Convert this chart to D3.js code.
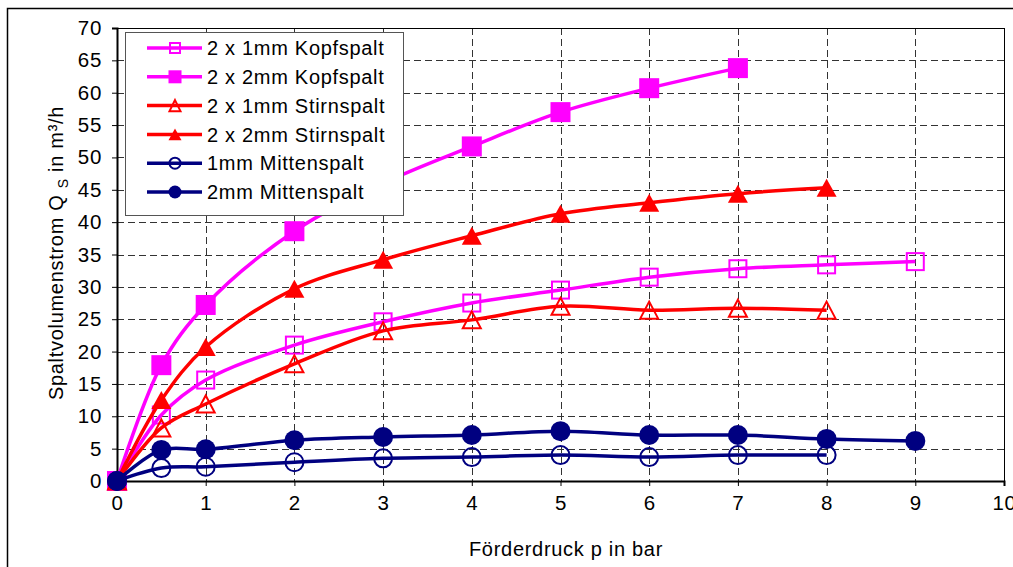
<!DOCTYPE html>
<html>
<head>
<meta charset="utf-8">
<script src="https://cdn.jsdelivr.net/npm/d3@7"></script>
<style>
  body { margin: 0; background: #fff; }
  text { font-family: Arial, "Liberation Sans", sans-serif; fill: #000; letter-spacing: 0.7px; }
</style>
</head>
<body>
<div id="chart"></div>
<script>
// Values
var pressure = [0, 0.5, 1, 2, 3, 4, 5, 6, 7, 8, 9]
var kopf1 = [0, 10.2, 15.6, 21.0, 24.6, 27.5, 29.5, 31.5, 32.8, 33.4, 33.9]
var kopf2 = [0, 17.9, 27.2, 38.6, 46.0, 51.7, 57.0, 60.7, 63.8]
var stirn1 = [0, 8.2, 11.9, 18.1, 23.2, 24.9, 27.0, 26.4, 26.7, 26.4]
var stirn2 = [0, 12.5, 20.7, 29.7, 34.2, 37.9, 41.3, 43.0, 44.4, 45.3]
var mitte1 = [0, 2.0, 2.2, 2.9, 3.5, 3.7, 4.0, 3.7, 4.0, 4.0]
var mitte2 = [0, 4.8, 4.9, 6.3, 6.8, 7.1, 7.7, 7.1, 7.1, 6.5, 6.2]

var seriesNames = ['2 x 1mm Kopfspalt', '2 x 2mm Kopfspalt', '2 x 1mm Stirnspalt',
                   '2 x 2mm Stirnspalt', '1mm Mittenspalt', '2mm Mittenspalt']
var xTicks = [0, 1, 2, 3, 4, 5, 6, 7, 8, 9, 10]
var yTicks = [0, 5, 10, 15, 20, 25, 30, 35, 40, 45, 50, 55, 60, 65, 70]

var series = [
    { name: seriesNames[0], values: kopf1, color: '#ff00ff', shape: 'square', filled: false },
    { name: seriesNames[1], values: kopf2, color: '#ff00ff', shape: 'square', filled: true },
    { name: seriesNames[2], values: stirn1, color: '#ff0000', shape: 'triangle', filled: false },
    { name: seriesNames[3], values: stirn2, color: '#ff0000', shape: 'triangle', filled: true },
    { name: seriesNames[4], values: mitte1, color: '#000080', shape: 'circle', filled: false },
    { name: seriesNames[5], values: mitte2, color: '#000080', shape: 'circle', filled: true }
]

var width = 1013,
    height = 567,
    plotLeft = 117, plotRight = 1004, plotTop = 28, plotBottom = 481

var svg = d3.select('#chart')
    .append('svg')
    .attr('width', width)
    .attr('height', height)

// outer frame (cut off at the right and bottom)
svg.append('rect')
    .attr('x', 7.5).attr('y', 8.5)
    .attr('width', 1100).attr('height', 700)
    .attr('fill', 'none').attr('stroke', '#000').attr('stroke-width', 1.5)

var x = d3.scaleLinear().domain([0, 10]).range([plotLeft, plotRight])
var y = d3.scaleLinear().domain([0, 70]).range([plotBottom, plotTop])

// grid
svg.append('g').selectAll('line')
    .data(xTicks.slice(1, -1))
    .enter().append('line')
    .attr('x1', function(d) { return Math.round(x(d)) + 0.5 })
    .attr('x2', function(d) { return Math.round(x(d)) + 0.5 })
    .attr('y1', plotTop).attr('y2', plotBottom)
    .attr('stroke', '#333').attr('stroke-dasharray', '7,4')

svg.append('g').selectAll('line')
    .data(yTicks.slice(1, -1))
    .enter().append('line')
    .attr('y1', function(d) { return Math.round(y(d)) + 0.5 })
    .attr('y2', function(d) { return Math.round(y(d)) + 0.5 })
    .attr('x1', plotLeft).attr('x2', plotRight)
    .attr('stroke', '#333').attr('stroke-dasharray', '7,4')

// plot border
svg.append('rect')
    .attr('x', plotLeft + 0.5).attr('y', plotTop + 0.5)
    .attr('width', plotRight - plotLeft).attr('height', plotBottom - plotTop)
    .attr('fill', 'none').attr('stroke', '#000')

// axes
var xAxis = svg.append('g')
    .attr('transform', 'translate(0,' + plotBottom + ')')
    .call(d3.axisBottom(x).tickValues(xTicks).tickSize(5).tickPadding(9))
var yAxis = svg.append('g')
    .attr('transform', 'translate(' + plotLeft + ',0)')
    .call(d3.axisLeft(y).tickValues(yTicks).tickSize(5).tickPadding(10))

xAxis.select('.domain').attr('stroke-width', 2)
yAxis.select('.domain').attr('stroke-width', 2)
xAxis.attr('font-size', null).attr('font-family', null)
yAxis.attr('font-size', null).attr('font-family', null)
xAxis.selectAll('.tick text').style('font-size', '20.5px')
yAxis.selectAll('.tick text').style('font-size', '20.5px')
xAxis.select('.tick:last-of-type line').remove()

// axis titles
svg.append('text')
    .attr('x', 566).attr('y', 556)
    .attr('text-anchor', 'middle')
    .style('font-size', '20px')
    .text('Förderdruck p in bar')

var yTitle = svg.append('text')
    .attr('transform', 'translate(63,253) rotate(-90)')
    .attr('text-anchor', 'middle')
    .style('font-size', '20px')
yTitle.append('tspan').text('Spaltvolumenstrom Q ')
yTitle.append('tspan').attr('dy', 5).style('font-size', '14px').text('S')
yTitle.append('tspan').attr('dy', -5).text(' in m³/h')

// markers
var drawMarker = function(sel, s, size) {
    var r = size / 2
    if (s.shape === 'square') {
        var side = s.filled ? size : size - 3
        sel.append('rect')
            .attr('x', -side / 2).attr('y', -side / 2)
            .attr('width', side).attr('height', side)
    } else if (s.shape === 'triangle') {
        var h = s.filled ? size * 0.9 : size * 0.85
        var w = s.filled ? size : size - 2
        sel.append('path')
            .attr('d', 'M0,' + (-h / 2) + 'L' + (w / 2) + ',' + (h / 2) + 'L' + (-w / 2) + ',' + (h / 2) + 'Z')
    } else {
        sel.append('circle').attr('r', s.filled ? r : r - 1)
    }
    sel.selectAll('*')
        .attr('fill', s.filled ? s.color : '#fff')
        .attr('fill-opacity', s.filled ? 1 : 0)
        .attr('stroke', s.color)
        .attr('stroke-width', s.filled ? 0 : 2)
}

var line = d3.line()
    .x(function(d) { return x(d.p) })
    .y(function(d) { return y(d.q) })
    .curve(d3.curveCatmullRom.alpha(0.5))

series.forEach(function(s) {
    var pts = s.values.map(function(v, i) { return { p: pressure[i], q: v } })
    var g = svg.append('g')
    g.append('path')
        .datum(pts)
        .attr('d', line)
        .attr('fill', 'none')
        .attr('stroke', s.color)
        .attr('stroke-width', 3.5)
    g.selectAll('.pt')
        .data(pts)
        .enter().append('g')
        .attr('class', 'pt')
        .attr('transform', function(d) { return 'translate(' + x(d.p) + ',' + y(d.q) + ')' })
        .each(function() { drawMarker(d3.select(this), s, 20) })
})

// legend
var legend = svg.append('g')
legend.append('rect')
    .attr('x', 125.5).attr('y', 32.5)
    .attr('width', 278).attr('height', 183)
    .attr('fill', '#fff').attr('stroke', '#555')

var rows = legend.selectAll('.legend')
    .data(series)
    .enter().append('g')
    .attr('class', 'legend')
    .attr('transform', function(d, i) { return 'translate(0,' + (48 + i * 28.8) + ')' })

rows.append('line')
    .attr('x1', 147).attr('x2', 202)
    .attr('stroke', function(d) { return d.color })
    .attr('stroke-width', 3.5)
rows.append('g')
    .attr('transform', 'translate(175,0)')
    .each(function(d) { drawMarker(d3.select(this), d, 13) })
rows.append('text')
    .attr('x', 207).attr('dy', '0.36em')
    .style('font-size', '20px')
    .text(function(d) { return d.name })
</script>
</body>
</html>
